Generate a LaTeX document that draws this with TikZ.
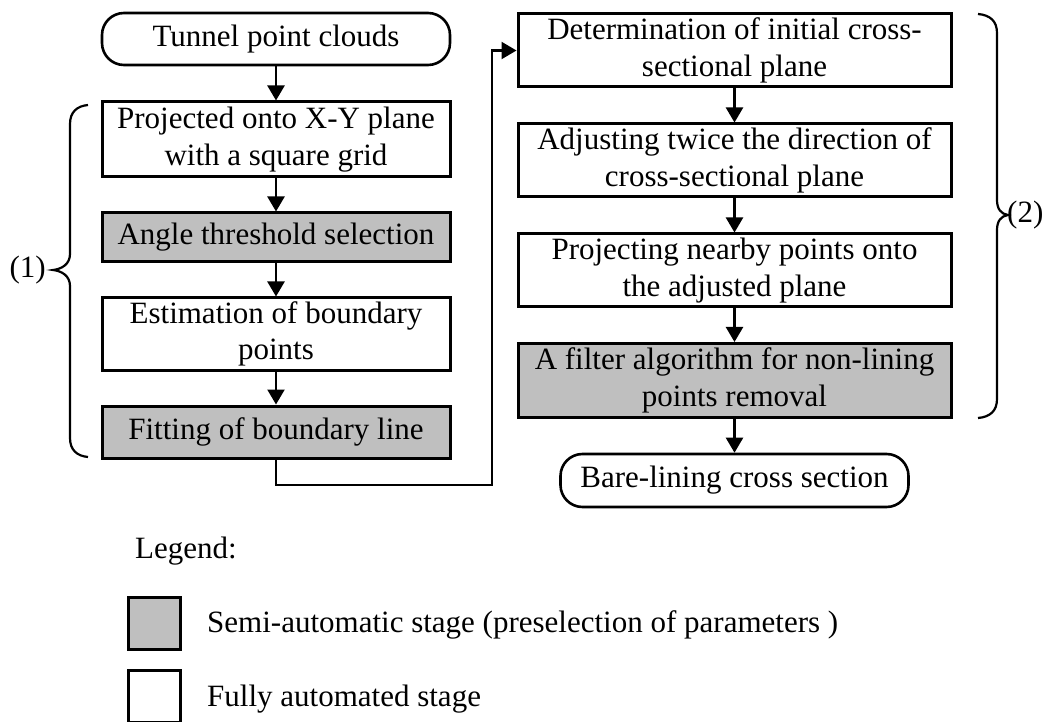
\documentclass[tikz,border=0pt]{standalone}
\usepackage{fontspec}
\setmainfont{Liberation Serif}
\usetikzlibrary{arrows.meta}

\definecolor{semigray}{RGB}{191,191,191}

\begin{document}
\begin{tikzpicture}[x=1pt,y=-1pt,
  every node/.style={font=\fontsize{31}{36.5}\selectfont, inner sep=0pt, align=center},
  stagebox/.style={draw, line width=3pt, fill=white, minimum height=73pt},
  leftbox/.style={stagebox, minimum width=348pt},
  rightbox/.style={stagebox, minimum width=433pt},
  semi/.style={fill=semigray},
  terminal/.style={draw, line width=2.6pt, rounded corners=22pt, minimum width=348pt, minimum height=52pt},
  flow/.style={line width=2.3pt, -{Triangle[length=15pt,width=17pt]}},
  bracepath/.style={line width=2.2pt},
  legbox/.style={draw, line width=3pt, minimum width=52pt, minimum height=52pt},
  legtext/.style={anchor=base west}
]
\useasboundingbox (0,0) rectangle (1053,722);

% left column
\node[terminal] (start) at (276,39) {Tunnel point clouds};
\node[leftbox, minimum height=75pt] (proj) at (276,139.5) {Projected onto X-Y plane\\with a square grid};
\node[leftbox, semi, minimum height=49pt] (angle) at (276,237.5) {Angle threshold selection};
\node[leftbox, minimum height=72pt] (est) at (276,334) {Estimation of boundary\\points};
\node[leftbox, semi, minimum height=52pt] (fit) at (276,432) {Fitting of boundary line};

% right column
\node[rightbox] (init) at (734.5,50.5) {Determination of initial cross-\\sectional plane};
\node[rightbox] (adj) at (734.5,160.5) {Adjusting twice the direction of\\cross-sectional plane};
\node[rightbox] (projn) at (734.5,270.5) {Projecting nearby points onto\\the adjusted plane};
\node[rightbox, semi, minimum height=74pt] (filt) at (734.5,380.5) {A filter algorithm for non-lining\\points removal};
\node[terminal, minimum height=53pt] (stop) at (734.5,480.5) {Bare-lining cross section};

% connectors
\draw[flow] (start) -- (proj);
\draw[flow] (proj) -- (angle);
\draw[flow] (angle) -- (est);
\draw[flow] (est) -- (fit);
\coordinate (turn) at (492,485);
\draw[flow] (fit.south) |- (turn) |- (init.west);
\draw[flow] (init) -- (adj);
\draw[flow] (adj) -- (projn);
\draw[flow] (projn) -- (filt);
\draw[flow] (filt) -- (stop);

% braces grouping the two stages
\draw[bracepath] (88,105) .. controls (77,106) and (70,112) .. (70,124) -- (70,254)
  .. controls (70,264) and (62,269) .. (53,270)
  .. controls (62,271) and (70,276) .. (70,286) -- (70,438)
  .. controls (70,450) and (77,456) .. (88,457);
\node[anchor=east] (g1) at (46,270) {(1)};

\draw[bracepath] (978,14) .. controls (990,15) and (997,21) .. (997,33) -- (997,200)
  .. controls (997,209) and (1001,214) .. (1008,215)
  .. controls (1001,216) and (997,221) .. (997,230) -- (997,399)
  .. controls (997,411) and (990,417) .. (978,418);
\node[anchor=west] (g2) at (1007,215) {(2)};

% legend
\node[legtext] (legend) at (135,558) {Legend:};
\node[legbox, fill=semigray] (lsemi) at (154,623) {};
\node[legtext] (tsemi) at (207,632) {Semi-automatic stage (preselection of parameters )};
\node[legbox] (lfull) at (154,696) {};
\node[legtext] (tfull) at (207,706) {Fully automated stage};
\end{tikzpicture}
\end{document}
